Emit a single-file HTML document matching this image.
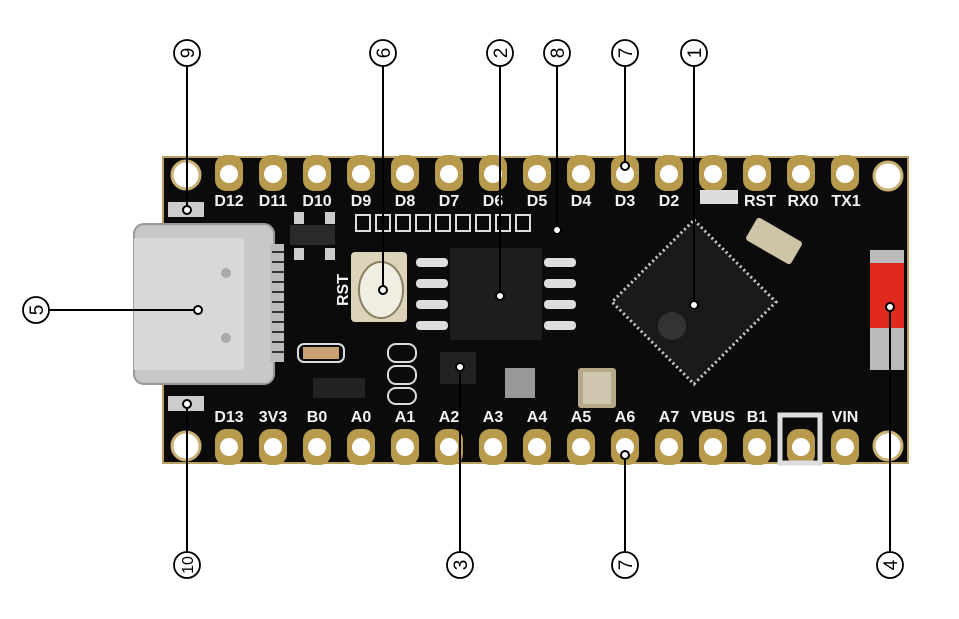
<!DOCTYPE html>
<html><head><meta charset="utf-8"><style>
html,body{margin:0;padding:0;background:#fff;}
svg{display:block}
.pl{font-family:"Liberation Sans",sans-serif;font-weight:bold;font-size:16px;fill:#f2f2f2;}
.cn{font-family:"Liberation Sans",sans-serif;font-size:19px;fill:#000;}
</style></head><body>
<svg width="959" height="619" viewBox="0 0 959 619" xmlns="http://www.w3.org/2000/svg">
<rect width="959" height="619" fill="#fff"/>
<rect x="163" y="157" width="745" height="306" fill="#0b0b0b"/>
<rect x="163" y="157" width="745" height="306" fill="none" stroke="#b8a060" stroke-width="2"/>
<g fill="#fff" stroke="#c9b176" stroke-width="3">
<circle cx="186" cy="175" r="14"/><circle cx="186" cy="446" r="14"/>
<circle cx="888" cy="176" r="14"/><circle cx="888" cy="446" r="14"/>
</g>
<g fill="#b89a4c">
<rect x="215" y="155" width="28" height="36" rx="11"/><rect x="259" y="155" width="28" height="36" rx="11"/><rect x="303" y="155" width="28" height="36" rx="11"/><rect x="347" y="155" width="28" height="36" rx="11"/><rect x="391" y="155" width="28" height="36" rx="11"/><rect x="435" y="155" width="28" height="36" rx="11"/><rect x="479" y="155" width="28" height="36" rx="11"/><rect x="523" y="155" width="28" height="36" rx="11"/><rect x="567" y="155" width="28" height="36" rx="11"/><rect x="611" y="155" width="28" height="36" rx="11"/><rect x="655" y="155" width="28" height="36" rx="11"/><rect x="699" y="155" width="28" height="36" rx="11"/><rect x="743" y="155" width="28" height="36" rx="11"/><rect x="787" y="155" width="28" height="36" rx="11"/><rect x="831" y="155" width="28" height="36" rx="11"/>
<rect x="215" y="429" width="28" height="36" rx="11"/><rect x="259" y="429" width="28" height="36" rx="11"/><rect x="303" y="429" width="28" height="36" rx="11"/><rect x="347" y="429" width="28" height="36" rx="11"/><rect x="391" y="429" width="28" height="36" rx="11"/><rect x="435" y="429" width="28" height="36" rx="11"/><rect x="479" y="429" width="28" height="36" rx="11"/><rect x="523" y="429" width="28" height="36" rx="11"/><rect x="567" y="429" width="28" height="36" rx="11"/><rect x="611" y="429" width="28" height="36" rx="11"/><rect x="655" y="429" width="28" height="36" rx="11"/><rect x="699" y="429" width="28" height="36" rx="11"/><rect x="743" y="429" width="28" height="36" rx="11"/><rect x="787" y="429" width="28" height="36" rx="11"/><rect x="831" y="429" width="28" height="36" rx="11"/>
</g>
<g fill="#fff">
<circle cx="229" cy="174" r="9"/><circle cx="273" cy="174" r="9"/><circle cx="317" cy="174" r="9"/><circle cx="361" cy="174" r="9"/><circle cx="405" cy="174" r="9"/><circle cx="449" cy="174" r="9"/><circle cx="493" cy="174" r="9"/><circle cx="537" cy="174" r="9"/><circle cx="581" cy="174" r="9"/><circle cx="625" cy="174" r="9"/><circle cx="669" cy="174" r="9"/><circle cx="713" cy="174" r="9"/><circle cx="757" cy="174" r="9"/><circle cx="801" cy="174" r="9"/><circle cx="845" cy="174" r="9"/>
<circle cx="229" cy="447" r="9"/><circle cx="273" cy="447" r="9"/><circle cx="317" cy="447" r="9"/><circle cx="361" cy="447" r="9"/><circle cx="405" cy="447" r="9"/><circle cx="449" cy="447" r="9"/><circle cx="493" cy="447" r="9"/><circle cx="537" cy="447" r="9"/><circle cx="581" cy="447" r="9"/><circle cx="625" cy="447" r="9"/><circle cx="669" cy="447" r="9"/><circle cx="713" cy="447" r="9"/><circle cx="757" cy="447" r="9"/><circle cx="801" cy="447" r="9"/><circle cx="845" cy="447" r="9"/>
</g>
<rect x="700" y="190" width="38" height="14" fill="#ddd"/>
<g class="pl" text-anchor="middle">
<text x="229" y="206">D12</text><text x="273" y="206">D11</text><text x="317" y="206">D10</text><text x="361" y="206">D9</text><text x="405" y="206">D8</text><text x="449" y="206">D7</text><text x="493" y="206">D6</text><text x="537" y="206">D5</text><text x="581" y="206">D4</text><text x="625" y="206">D3</text><text x="669" y="206">D2</text><text x="760" y="206">RST</text><text x="803" y="206">RX0</text><text x="846" y="206">TX1</text>
<text x="229" y="422">D13</text><text x="273" y="422">3V3</text><text x="317" y="422">B0</text><text x="361" y="422">A0</text><text x="405" y="422">A1</text><text x="449" y="422">A2</text><text x="493" y="422">A3</text><text x="537" y="422">A4</text><text x="581" y="422">A5</text><text x="625" y="422">A6</text><text x="669" y="422">A7</text><text x="713" y="422">VBUS</text><text x="757" y="422">B1</text><text x="845" y="422">VIN</text>
</g>
<rect x="780" y="415" width="40" height="48" fill="none" stroke="#ddd" stroke-width="5"/>
<rect x="168" y="202" width="36" height="15" fill="#ccc"/><rect x="168" y="396" width="36" height="15" fill="#ccc"/>
<rect x="134" y="224" width="140" height="160" rx="10" fill="#c8c8c8" stroke="#999" stroke-width="2"/>
<rect x="134" y="238" width="110" height="132" fill="#d8d8d8"/>
<rect x="270" y="244" width="14" height="118" fill="#bbb"/>
<g stroke="#333" stroke-width="2"><line x1="272" y1="252" x2="284" y2="252"/><line x1="272" y1="262" x2="284" y2="262"/><line x1="272" y1="272" x2="284" y2="272"/><line x1="272" y1="282" x2="284" y2="282"/><line x1="272" y1="292" x2="284" y2="292"/><line x1="272" y1="302" x2="284" y2="302"/><line x1="272" y1="312" x2="284" y2="312"/><line x1="272" y1="322" x2="284" y2="322"/><line x1="272" y1="332" x2="284" y2="332"/><line x1="272" y1="342" x2="284" y2="342"/><line x1="272" y1="352" x2="284" y2="352"/></g>
<circle cx="226" cy="273" r="5" fill="#aaa"/><circle cx="226" cy="338" r="5" fill="#aaa"/>
<rect x="290" y="225" width="45" height="20" fill="#2a2a2a"/>
<rect x="294" y="212" width="10" height="12" fill="#ccc"/><rect x="325" y="212" width="10" height="12" fill="#ccc"/><rect x="294" y="248" width="10" height="12" fill="#ccc"/><rect x="325" y="248" width="10" height="12" fill="#ccc"/>
<text x="342" y="296" class="pl" font-size="14" text-anchor="middle" transform="rotate(-90 342 290)">RST</text>
<rect x="351" y="252" width="56" height="70" rx="4" fill="#ddd3b8"/>
<ellipse cx="381" cy="290" rx="22" ry="28" fill="#f0ede2" stroke="#8a8062" stroke-width="2"/>
<rect x="450" y="248" width="92" height="92" fill="#1d1d1d"/>
<g fill="#ddd"><rect x="416" y="258" width="32" height="9" rx="4"/><rect x="416" y="279" width="32" height="9" rx="4"/><rect x="416" y="300" width="32" height="9" rx="4"/><rect x="416" y="321" width="32" height="9" rx="4"/>
<rect x="544" y="258" width="32" height="9" rx="4"/><rect x="544" y="279" width="32" height="9" rx="4"/><rect x="544" y="300" width="32" height="9" rx="4"/><rect x="544" y="321" width="32" height="9" rx="4"/></g>
<g fill="none" stroke="#ddd" stroke-width="2"><rect x="356" y="215" width="14" height="16"/><rect x="376" y="215" width="14" height="16"/><rect x="396" y="215" width="14" height="16"/><rect x="416" y="215" width="14" height="16"/><rect x="436" y="215" width="14" height="16"/><rect x="456" y="215" width="14" height="16"/><rect x="476" y="215" width="14" height="16"/><rect x="496" y="215" width="14" height="16"/><rect x="516" y="215" width="14" height="16"/>
<rect x="298" y="344" width="46" height="18" rx="6"/><rect x="388" y="344" width="28" height="18" rx="8"/><rect x="388" y="366" width="28" height="18" rx="8"/><rect x="388" y="388" width="28" height="16" rx="8"/></g>
<rect x="303" y="347" width="36" height="12" fill="#c9a070"/>
<rect x="440" y="352" width="36" height="32" fill="#222"/>
<rect x="313" y="378" width="52" height="20" fill="#222"/>
<rect x="505" y="368" width="30" height="30" fill="#999"/>
<rect x="578" y="368" width="38" height="40" rx="3" fill="#b5a98a"/>
<rect x="583" y="372" width="28" height="32" fill="#cfc6b0"/>
<polygon points="694,220 776,302 694,384 612,302" fill="#1a1a1a" stroke="#ccc" stroke-width="3" stroke-dasharray="2,3"/>
<circle cx="672" cy="326" r="14" fill="#333"/>
<rect x="748" y="228" width="52" height="26" rx="3" transform="rotate(30 774 241)" fill="#cfc4a8"/>
<rect x="870" y="250" width="34" height="120" fill="#bbb"/>
<rect x="870" y="263" width="34" height="65" fill="#e02a20"/>
<g stroke="#000" stroke-width="2" fill="none">
<line x1="187" y1="66" x2="187" y2="210"/>
<line x1="383" y1="66" x2="383" y2="290"/>
<line x1="500" y1="66" x2="500" y2="296"/>
<line x1="557" y1="66" x2="557" y2="230"/>
<line x1="625" y1="66" x2="625" y2="166"/>
<line x1="694" y1="66" x2="694" y2="305"/>
<line x1="187" y1="404" x2="187" y2="552"/>
<line x1="460" y1="367" x2="460" y2="552"/>
<line x1="625" y1="455" x2="625" y2="552"/>
<line x1="890" y1="307" x2="890" y2="552"/>
<line x1="49" y1="310" x2="198" y2="310"/>
</g>
<g fill="#fff" stroke="#000" stroke-width="2">
<circle cx="187" cy="210" r="4"/><circle cx="383" cy="290" r="4"/><circle cx="500" cy="296" r="4"/><circle cx="557" cy="230" r="4"/><circle cx="625" cy="166" r="4"/><circle cx="694" cy="305" r="4"/>
<circle cx="187" cy="404" r="4"/><circle cx="460" cy="367" r="4"/><circle cx="625" cy="455" r="4"/><circle cx="890" cy="307" r="4"/><circle cx="198" cy="310" r="4"/>
</g>
<g fill="#fff" stroke="#000" stroke-width="1.8">
<circle cx="187" cy="53" r="13"/><circle cx="383" cy="53" r="13"/><circle cx="500" cy="53" r="13"/><circle cx="557" cy="53" r="13"/><circle cx="625" cy="53" r="13"/><circle cx="694" cy="53" r="13"/>
<circle cx="187" cy="565" r="13"/><circle cx="460" cy="565" r="13"/><circle cx="625" cy="565" r="13"/><circle cx="890" cy="565" r="13"/><circle cx="36" cy="310" r="13"/>
</g>
<g class="cn" text-anchor="middle">
<text x="187" y="60" transform="rotate(-90 187 53)">9</text>
<text x="383" y="60" transform="rotate(-90 383 53)">6</text>
<text x="500" y="60" transform="rotate(-90 500 53)">2</text>
<text x="557" y="60" transform="rotate(-90 557 53)">8</text>
<text x="625" y="60" transform="rotate(-90 625 53)">7</text>
<text x="694" y="60" transform="rotate(-90 694 53)">1</text>
<text x="187" y="571" transform="rotate(-90 187 565)" font-size="16">10</text>
<text x="460" y="572" transform="rotate(-90 460 565)">3</text>
<text x="625" y="572" transform="rotate(-90 625 565)">7</text>
<text x="890" y="572" transform="rotate(-90 890 565)">4</text>
<text x="36" y="317" transform="rotate(-90 36 310)">5</text>
</g>
</svg>
</body></html>
